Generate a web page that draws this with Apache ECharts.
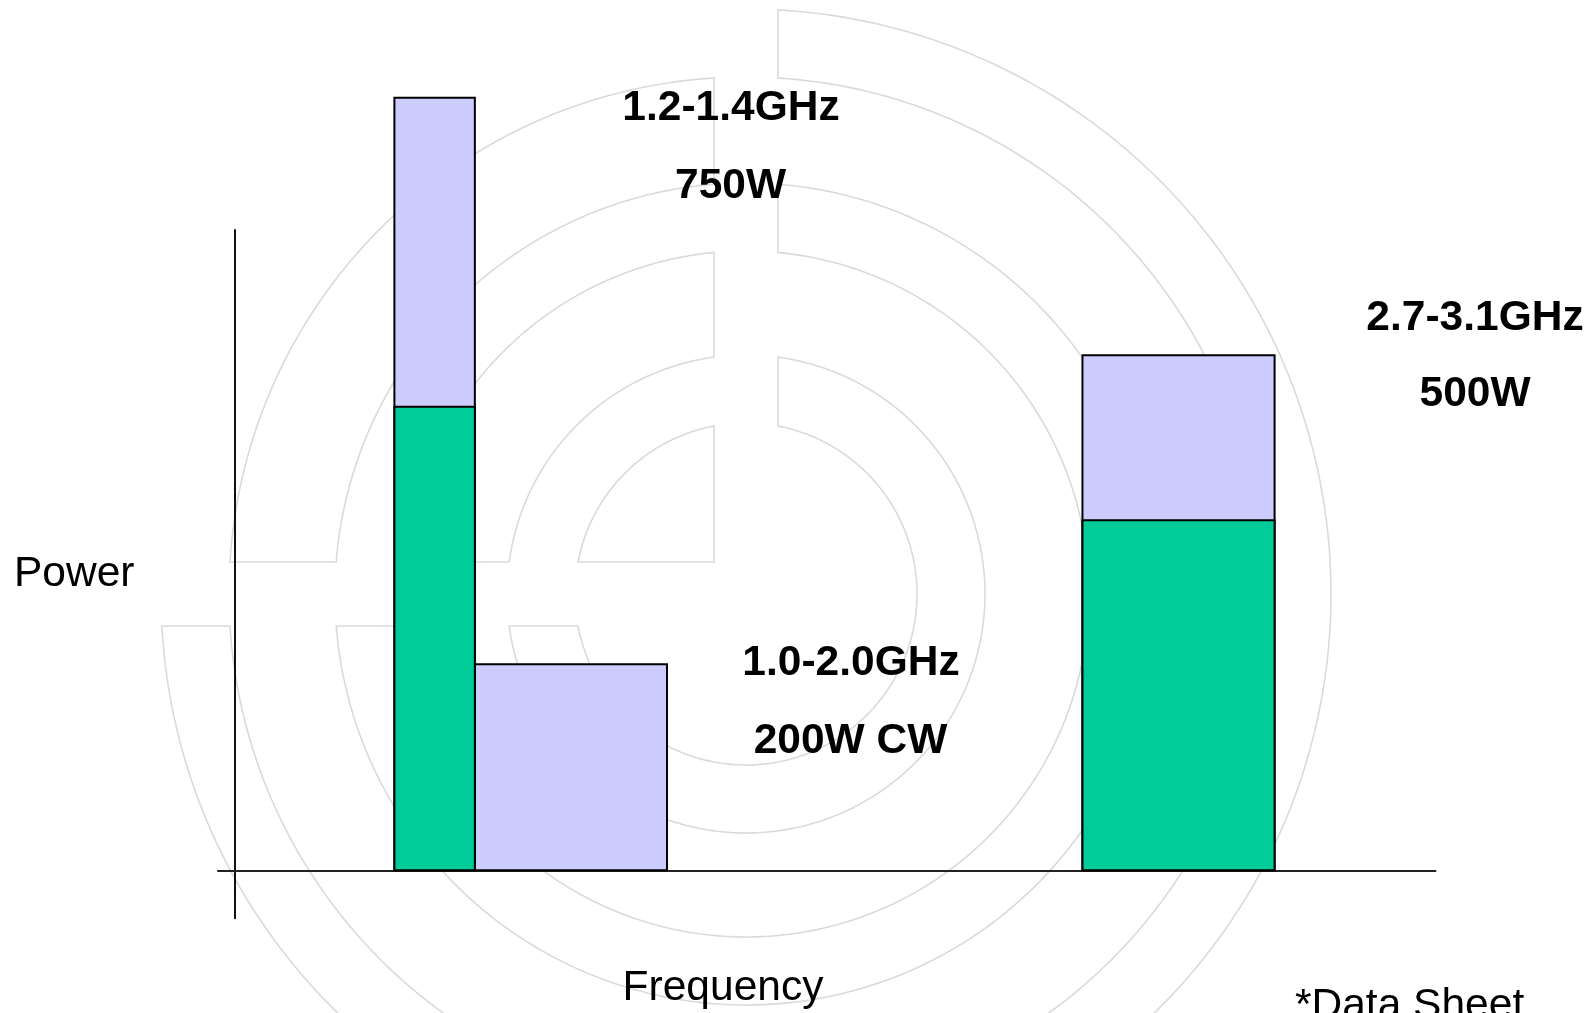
<!DOCTYPE html>
<html>
<head>
<meta charset="utf-8">
<title>Power vs Frequency</title>
<script src="https://cdn.jsdelivr.net/npm/echarts@6/dist/echarts.min.js"></script>
<style>
  html, body { margin: 0; padding: 0; background: #ffffff; }
  #chart { width: 1595px; height: 1013px; }
</style>
</head>
<body>
<div id="chart"></div>
<script>
// Frequency bands (schematic position along the frequency axis, 0-100)
const bandNames  = ['1.2-1.4GHz', '1.0-2.0GHz', '2.7-3.1GHz'];
const powerNotes = ['750W', '200W CW', '500W'];
const bandStart  = [13.3, 20.0, 70.6];
const bandEnd    = [20.0, 36.0, 86.6];
// Rated output power (W) and the lower green segment (W)
const ratedPower = [750, 200, 500];
const innerPower = [450, null, 340];

const FONT = '"Liberation Sans", Arial, Helvetica, sans-serif';

// Faint concentric-ring emblem in the background
function ringEmblem() {
  const cx = 746, cy = 594, h = 32;
  const radii = [0, 171, 239, 343, 411, 517, 585];
  const els = [];
  const arc = (r, a0, a1, n) => {
    const pts = [];
    for (let i = 0; i <= n; i++) {
      const a = a0 + (a1 - a0) * i / n;
      pts.push([cx + r * Math.cos(a), cy + r * Math.sin(a)]);
    }
    return pts;
  };
  for (let k = 0; k < radii.length - 1; k++) {
    const r1 = radii[k], r2 = radii[k + 1];
    let pts;
    if (k % 2 === 1) {
      // three-quarter band: from the top (right of the vertical gap) round to the left (below the gap)
      const s = r => -Math.acos(h / r), e = r => Math.PI - Math.asin(h / r);
      pts = arc(r2, s(r2), e(r2), 240).concat(arc(r1, e(r1), s(r1), 240));
    } else {
      // quarter band in the upper-left
      const s = r => -Math.PI + Math.asin(h / r), e = r => -Math.PI / 2 - Math.asin(h / r);
      pts = arc(r2, s(r2), e(r2), 120);
      if (r1 > 0) pts = pts.concat(arc(r1, e(r1), s(r1), 120));
      else pts.push([cx - h, cy - h]);
    }
    els.push({
      type: 'polygon', z: 0, silent: true,
      shape: { points: pts },
      style: { fill: 'none', stroke: '#dadada', lineWidth: 1.6 }
    });
  }
  return els;
}

function label(text, x, y, opts) {
  return {
    type: 'text', z: 100, silent: true, x: x, y: y,
    style: Object.assign({
      text: text, fill: '#000',
      font: 'bold 42.5px ' + FONT,
      textAlign: 'center', textVerticalAlign: 'middle'
    }, opts || {})
  };
}

const annotations = [
  label(bandNames[0], 731, 108), label(powerNotes[0], 730.5, 186),
  label(bandNames[1], 851, 663), label(powerNotes[1], 850.5, 741),
  label(bandNames[2], 1475, 318.5), label(powerNotes[2], 1475, 394.5),
  label('Power', 14, 574.5, { font: '42.5px ' + FONT, textAlign: 'left' }),
  label('Frequency', 723, 988.5, { font: '42.5px ' + FONT }),
  label('*Data Sheet', 1295, 1006, { font: '42.5px ' + FONT, textAlign: 'left' })
];

function barRenderer(fill) {
  return function (params, api) {
    const p0 = api.coord([api.value(0), 0]);
    const p1 = api.coord([api.value(1), api.value(2)]);
    return {
      type: 'rect',
      shape: { x: p0[0], y: p1[1], width: p1[0] - p0[0], height: p0[1] - p1[1] },
      style: { fill: fill, stroke: '#000', lineWidth: 2 }
    };
  };
}

const ratedData = bandStart.map((s, i) => [s, bandEnd[i], ratedPower[i]]);
const innerData = bandStart
  .map((s, i) => [s, bandEnd[i], innerPower[i]])
  .filter(d => d[2] != null);

const chart = echarts.init(document.getElementById('chart'), null, { renderer: 'canvas' });
chart.setOption({
  animation: false,
  backgroundColor: '#ffffff',
  grid: { left: 218, right: 159.5, top: 230, bottom: 94.7 },
  xAxis: {
    type: 'value', min: -1.39, max: 100,
    axisLine: { show: true, onZero: true, lineStyle: { color: '#222', width: 2 } },
    axisTick: { show: false }, axisLabel: { show: false }, splitLine: { show: false }
  },
  yAxis: {
    type: 'value', min: -46.6, max: 621.7,
    axisLine: { show: true, onZero: true, lineStyle: { color: '#111', width: 2 } },
    axisTick: { show: false }, axisLabel: { show: false }, splitLine: { show: false }
  },
  graphic: ringEmblem().concat(annotations),
  series: [
    {
      name: 'Rated power', type: 'custom', clip: false, z: 2,
      encode: { x: [0, 1], y: 2 },
      renderItem: barRenderer('#ccccff'),
      data: ratedData
    },
    {
      name: 'Lower segment', type: 'custom', clip: false, z: 3,
      encode: { x: [0, 1], y: 2 },
      renderItem: barRenderer('#00cc99'),
      data: innerData
    }
  ]
});
</script>
</body>
</html>
